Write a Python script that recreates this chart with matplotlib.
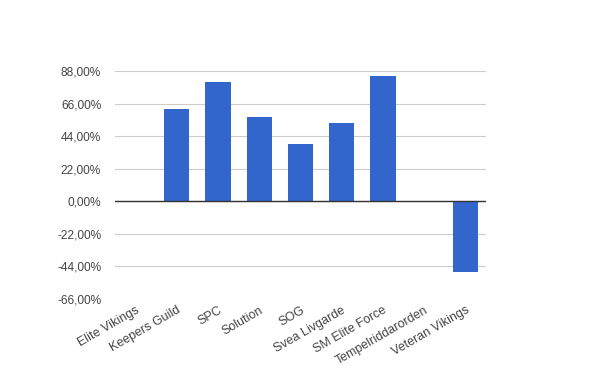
import matplotlib
matplotlib.use("Agg")
import matplotlib.pyplot as plt
from matplotlib.ticker import FuncFormatter

plt.rcParams['font.family'] = ['Liberation Sans', 'DejaVu Sans']

clans = ["Elite Vikings", "Keepers Guild", "SPC", "Solution", "SOG",
         "Svea Livgarde", "SM Elite Force", "Tempelriddarorden", "Veteran Vikings"]
change = [0.0, 62.5, 81.0, 57.1, 38.8, 53.0, 84.9, 0.0, -47.7]
yticks = [-66, -44, -22, 0, 22, 44, 66, 88]

fig = plt.figure(figsize=(6, 3.71), dpi=100)
ax = fig.add_axes([0.1917, 0.1954, 0.6183, 0.6124])

x = range(len(clans))
ax.bar(x, change, width=0.61, color="#3366cc", zorder=3)
ax.axhline(0, color="#333333", lw=1, zorder=4)

ax.set_xlim(-0.5, len(clans) - 0.5)
ax.set_ylim(-66, 88)
ax.set_yticks(yticks)
ax.yaxis.set_major_formatter(FuncFormatter(lambda v, p: ("%.2f%%" % v).replace(".", ",")))
ax.grid(axis="y", color="#cccccc", lw=0.8, zorder=0)
for s in ax.spines.values():
    s.set_visible(False)
ax.tick_params(length=0, colors="#444444")
ax.tick_params(axis="y", labelsize=8.6, pad=10)

ax.set_xticks(list(x))
ax.set_xticklabels(clans, rotation=30, ha="right", rotation_mode="anchor")
ax.tick_params(axis="x", labelsize=9, pad=4)

fig.savefig("out.png", dpi=100)
